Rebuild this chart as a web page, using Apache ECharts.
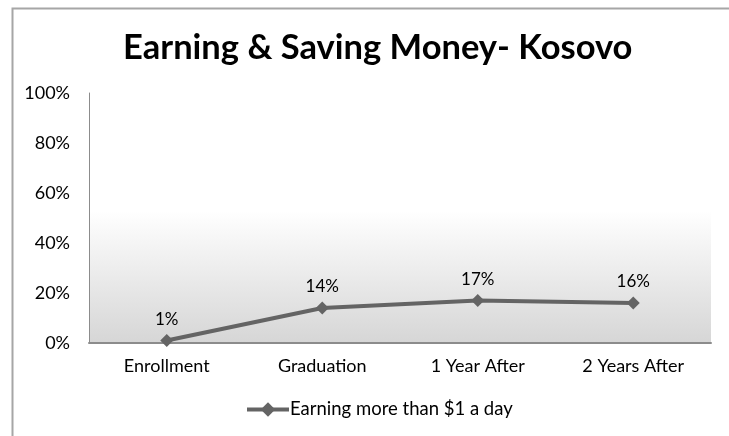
<!DOCTYPE html>
<html>
<head>
<meta charset="utf-8">
<script src="https://cdn.jsdelivr.net/npm/echarts@6/dist/echarts.min.js"></script>
<style>html,body{margin:0;padding:0;background:#fff}#c{width:729px;height:436px}</style>
</head>
<body>
<div id="c"></div>
<script>
const titleText = 'Earning & Saving Money- Kosovo';
const categories = ['Enrollment', 'Graduation', '1 Year After', '2 Years After'];
const seriesName = 'Earning more than $1 a day';
const values = [0.01, 0.14, 0.17, 0.16];
const yTicks = [0, 0.2, 0.4, 0.6, 0.8, 1.0];

const FONT = 'Lato, "Open Sans", sans-serif';
const chart = echarts.init(document.getElementById('c'), null, {renderer: 'canvas'});
chart.setOption({
  animation: false,
  backgroundColor: '#fff',
  graphic: [{
    type: 'polyline',
    shape: {points: [[12.5, 436], [12.5, 8.5], [729, 8.5]]},
    style: {stroke: '#a6a6a6', lineWidth: 2, fill: null},
    silent: true
  }],
  title: {
    text: titleText,
    left: 118,
    top: 25,
    textStyle: {fontFamily: FONT, fontWeight: 'bold', fontSize: 34.5, color: '#000'}
  },
  grid: {
    left: 89, right: 18, top: 93, bottom: 93,
    show: true,
    borderWidth: 0,
    backgroundColor: new echarts.graphic.LinearGradient(0, 0, 0, 1, [
      {offset: 0, color: '#ffffff'},
      {offset: 0.47, color: '#ffffff'},
      {offset: 1, color: '#d6d6d6'}
    ])
  },
  legend: {
    bottom: 12,
    left: 240,
    itemWidth: 42,
    itemHeight: 18,
    itemGap: 4,
    data: [{name: seriesName}],
    lineStyle: {width: 4, color: '#646464'},
    textStyle: {fontFamily: FONT, fontSize: 18.5, color: '#000', padding: [0, 0, 0, -4]}
  },
  xAxis: {
    type: 'category',
    data: categories,
    boundaryGap: true,
    axisLine: {show: true, lineStyle: {color: '#8c8c8c', width: 2}},
    axisTick: {show: false},
    axisLabel: {fontFamily: FONT, fontSize: 18, color: '#000', margin: 14}
  },
  yAxis: {
    type: 'value',
    min: 0, max: 1, interval: 0.2,
    axisLine: {show: true, lineStyle: {color: '#8c8c8c', width: 1}},
    axisTick: {show: false},
    splitLine: {show: false},
    axisLabel: {
      fontFamily: FONT, fontSize: 18, color: '#000', margin: 19,
      formatter: v => Math.round(v * 100) + '%'
    }
  },
  series: [{
    name: seriesName,
    type: 'line',
    data: values,
    symbol: 'diamond',
    symbolSize: 13,
    lineStyle: {color: '#646464', width: 4},
    itemStyle: {color: '#646464'},
    label: {
      show: true, position: 'top', distance: 6,
      fontFamily: FONT, fontSize: 17, color: '#000',
      formatter: p => Math.round(p.value * 100) + '%'
    }
  }]
});
</script>
</body>
</html>
